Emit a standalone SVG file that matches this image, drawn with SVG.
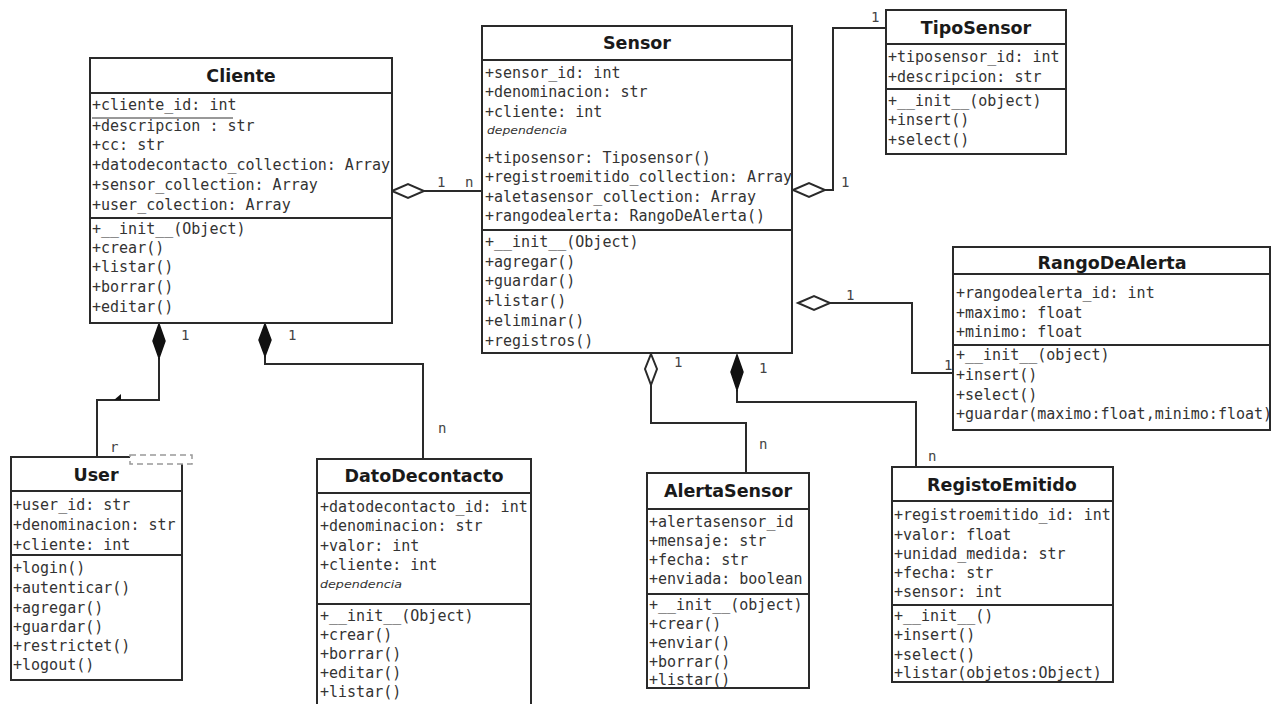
<svg xmlns="http://www.w3.org/2000/svg" width="1273" height="704" viewBox="0 0 1273 704">
<style>
.box{fill:#fff;stroke:#2a2a2a;stroke-width:2}
.sep{stroke:#2a2a2a;stroke-width:2}
.t{font-family:"DejaVu Sans","Liberation Sans",sans-serif;font-weight:bold;font-size:17.5px;fill:#1a1a1a;text-anchor:middle}
.a{font-family:"DejaVu Sans Mono","Liberation Mono",monospace;font-size:15px;fill:#333}
.d{font-family:"DejaVu Sans","Liberation Sans",sans-serif;font-style:italic;font-size:10px;fill:#333}
.c{fill:none;stroke:#2a2a2a;stroke-width:2}
.hd{fill:#fff;stroke:#2a2a2a;stroke-width:2}
.fd{fill:#111;stroke:#111;stroke-width:1.5}
.l{font-family:"DejaVu Sans Mono","Liberation Mono",monospace;font-size:14px;fill:#444}
</style>
<defs>
<clipPath id="cRango"><rect x="953" y="247" width="318" height="183"/></clipPath>
</defs>

<g id="connectors">
  <!-- Cliente - Sensor -->
  <line class="c" x1="424" y1="191" x2="482" y2="191"/>
  <polygon class="hd" points="392,191 408,184 424,191 408,198"/>
  <text class="l" x="437" y="187">1</text>
  <text class="l" x="465" y="187">n</text>
  <!-- Sensor - TipoSensor -->
  <polyline class="c" points="825,190 833,190 833,28 886,28"/>
  <polygon class="hd" points="793,190 809,183 825,190 809,197"/>
  <text class="l" x="841" y="187">1</text>
  <text class="l" x="871" y="22">1</text>
  <!-- Sensor - RangoDeAlerta -->
  <polyline class="c" points="830,303 912,303 912,373 953,373"/>
  <polygon class="hd" points="798,303 814,296 830,303 814,310"/>
  <text class="l" x="846" y="300">1</text>
  <text class="l" x="944" y="370">1</text>
  <!-- Cliente - User -->
  <polyline class="c" points="159,358 159,400 97,400 97,457"/>
  <polygon class="fd" points="159,324 165,341 159,358 153,341"/>
  <polygon fill="#111" points="114,400 121,394 121,400"/>
  <text class="l" x="181" y="340">1</text>
  <!-- Cliente - DatoDecontacto -->
  <polyline class="c" points="265,356 265,364 423,364 423,459"/>
  <polygon class="fd" points="265,324 271,340 265,356 259,340"/>
  <text class="l" x="288" y="340">1</text>
  <text class="l" x="438" y="433">n</text>
  <!-- Sensor - AlertaSensor -->
  <polyline class="c" points="651,385 651,423 746,423 746,473"/>
  <polygon class="hd" points="651,354 657,369 651,385 645,369"/>
  <text class="l" x="674" y="367">1</text>
  <text class="l" x="759" y="449">n</text>
  <!-- Sensor - RegistoEmitido -->
  <polyline class="c" points="737,390 737,402 916,402 916,467"/>
  <polygon class="fd" points="737,355 743,372 737,390 731,372"/>
  <text class="l" x="759" y="373">1</text>
  <text class="l" x="928" y="461">n</text>
</g>

<g id="Cliente">
  <rect class="box" x="90" y="58" width="302" height="265"/>
  <line class="sep" x1="90" y1="93" x2="392" y2="93"/>
  <line class="sep" x1="90" y1="218" x2="392" y2="218"/>
  <text class="t" x="241" y="82">Cliente</text>
  <text class="a" x="92" y="110">+cliente_id: int</text>
  <line x1="92" y1="118" x2="233" y2="118" stroke="#333" stroke-width="1"/>
  <text class="a" x="92" y="131">+descripcion : str</text>
  <text class="a" x="92" y="150">+cc: str</text>
  <text class="a" x="92" y="170">+datodecontacto_collection: Array</text>
  <text class="a" x="92" y="190">+sensor_collection: Array</text>
  <text class="a" x="92" y="210">+user_colection: Array</text>
  <text class="a" x="92" y="234">+__init__(Object)</text>
  <text class="a" x="92" y="253">+crear()</text>
  <text class="a" x="92" y="272">+listar()</text>
  <text class="a" x="92" y="292">+borrar()</text>
  <text class="a" x="92" y="312">+editar()</text>
</g>

<g id="Sensor">
  <rect class="box" x="482" y="26" width="310" height="327"/>
  <line class="sep" x1="482" y1="60" x2="792" y2="60"/>
  <line class="sep" x1="482" y1="230" x2="792" y2="230"/>
  <text class="t" x="637" y="49">Sensor</text>
  <text class="a" x="485" y="78">+sensor_id: int</text>
  <text class="a" x="485" y="97">+denominacion: str</text>
  <text class="a" x="485" y="117">+cliente: int</text>
  <text class="d" x="487" y="134" textLength="80" lengthAdjust="spacingAndGlyphs">dependencia</text>
  <text class="a" x="485" y="163">+tiposensor: Tiposensor()</text>
  <text class="a" x="485" y="182">+registroemitido_collection: Array</text>
  <text class="a" x="485" y="202">+aletasensor_collection: Array</text>
  <text class="a" x="485" y="221">+rangodealerta: RangoDeAlerta()</text>
  <text class="a" x="485" y="247">+__init__(Object)</text>
  <text class="a" x="485" y="267">+agregar()</text>
  <text class="a" x="485" y="286">+guardar()</text>
  <text class="a" x="485" y="306">+listar()</text>
  <text class="a" x="485" y="326">+eliminar()</text>
  <text class="a" x="485" y="346">+registros()</text>
</g>

<g id="TipoSensor">
  <rect class="box" x="886" y="10" width="180" height="144"/>
  <line class="sep" x1="886" y1="44" x2="1066" y2="44"/>
  <line class="sep" x1="886" y1="89" x2="1066" y2="89"/>
  <text class="t" x="976" y="34">TipoSensor</text>
  <text class="a" x="888" y="62">+tiposensor_id: int</text>
  <text class="a" x="888" y="82">+descripcion: str</text>
  <text class="a" x="888" y="106">+__init__(object)</text>
  <text class="a" x="888" y="125">+insert()</text>
  <text class="a" x="888" y="145">+select()</text>
</g>

<g id="RangoDeAlerta">
  <rect class="box" x="953" y="247" width="317" height="183"/>
  <line class="sep" x1="953" y1="274" x2="1270" y2="274"/>
  <line class="sep" x1="953" y1="345" x2="1270" y2="345"/>
  <text class="t" x="1112" y="269">RangoDeAlerta</text>
  <g clip-path="url(#cRango)">
  <text class="a" x="956" y="298">+rangodealerta_id: int</text>
  <text class="a" x="956" y="318">+maximo: float</text>
  <text class="a" x="956" y="337">+minimo: float</text>
  <text class="a" x="956" y="360">+__init__(object)</text>
  <text class="a" x="956" y="380">+insert()</text>
  <text class="a" x="956" y="400">+select()</text>
  <text class="a" x="956" y="419">+guardar(maximo:float,minimo:float)</text>
  </g>
</g>

<g id="User">
  <path class="box" d="M130,457 L11,457 L11,680 L182,680 L182,464"/>
  <line class="sep" x1="11" y1="491" x2="182" y2="491"/>
  <line class="sep" x1="11" y1="555" x2="182" y2="555"/>
  <rect x="130" y="455" width="62" height="9" fill="none" stroke="#999" stroke-width="1.5" stroke-dasharray="6,4"/>
  <text class="l" x="110" y="452">r</text>
  <text class="t" x="96" y="481">User</text>
  <text class="a" x="13" y="510">+user_id: str</text>
  <text class="a" x="13" y="530">+denominacion: str</text>
  <text class="a" x="13" y="550">+cliente: int</text>
  <text class="a" x="13" y="573">+login()</text>
  <text class="a" x="13" y="593">+autenticar()</text>
  <text class="a" x="13" y="613">+agregar()</text>
  <text class="a" x="13" y="632">+guardar()</text>
  <text class="a" x="13" y="651">+restrictet()</text>
  <text class="a" x="13" y="670">+logout()</text>
</g>

<g id="DatoDecontacto">
  <rect class="box" x="317" y="459" width="214" height="260"/>
  <line class="sep" x1="317" y1="493" x2="531" y2="493"/>
  <line class="sep" x1="317" y1="604" x2="531" y2="604"/>
  <text class="t" x="424" y="482">DatoDecontacto</text>
  <text class="a" x="320" y="512">+datodecontacto_id: int</text>
  <text class="a" x="320" y="531">+denominacion: str</text>
  <text class="a" x="320" y="551">+valor: int</text>
  <text class="a" x="320" y="570">+cliente: int</text>
  <text class="d" x="320" y="588" textLength="82" lengthAdjust="spacingAndGlyphs">dependencia</text>
  <text class="a" x="320" y="621">+__init__(Object)</text>
  <text class="a" x="320" y="640">+crear()</text>
  <text class="a" x="320" y="659">+borrar()</text>
  <text class="a" x="320" y="678">+editar()</text>
  <text class="a" x="320" y="697">+listar()</text>
</g>

<g id="AlertaSensor">
  <rect class="box" x="647" y="473" width="162" height="215"/>
  <line class="sep" x1="647" y1="509" x2="809" y2="509"/>
  <line class="sep" x1="647" y1="594" x2="809" y2="594"/>
  <text class="t" x="728" y="497">AlertaSensor</text>
  <text class="a" x="649" y="527">+alertasensor_id</text>
  <text class="a" x="649" y="546">+mensaje: str</text>
  <text class="a" x="649" y="565">+fecha: str</text>
  <text class="a" x="649" y="584">+enviada: boolean</text>
  <text class="a" x="649" y="610">+__init__(object)</text>
  <text class="a" x="649" y="629">+crear()</text>
  <text class="a" x="649" y="648">+enviar()</text>
  <text class="a" x="649" y="667">+borrar()</text>
  <text class="a" x="649" y="685">+listar()</text>
</g>

<g id="RegistoEmitido">
  <rect class="box" x="892" y="467" width="221" height="215"/>
  <line class="sep" x1="892" y1="501" x2="1113" y2="501"/>
  <line class="sep" x1="892" y1="605" x2="1113" y2="605"/>
  <text class="t" x="1002" y="491">RegistoEmitido</text>
  <text class="a" x="894" y="520">+registroemitido_id: int</text>
  <text class="a" x="894" y="540">+valor: float</text>
  <text class="a" x="894" y="559">+unidad_medida: str</text>
  <text class="a" x="894" y="578">+fecha: str</text>
  <text class="a" x="894" y="597">+sensor: int</text>
  <text class="a" x="894" y="621">+__init__()</text>
  <text class="a" x="894" y="640">+insert()</text>
  <text class="a" x="894" y="660">+select()</text>
  <text class="a" x="894" y="678">+listar(objetos:Object)</text>
</g>
</svg>
